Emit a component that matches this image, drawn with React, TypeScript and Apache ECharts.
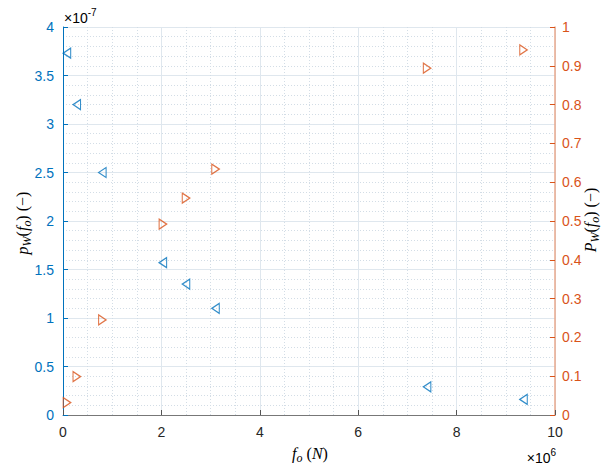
import React, { useEffect, useRef } from "react";
import * as echarts from "echarts";

const xForce = [80000, 280000, 800000, 2030000, 2500000, 3100000, 7400000, 9360000];
const pW = [3.73e-7, 3.2e-7, 2.5e-7, 1.57e-7, 1.35e-7, 1.1e-7, 0.29e-7, 0.16e-7];
const PW = [0.032, 0.099, 0.245, 0.492, 0.559, 0.634, 0.894, 0.941];
const xTickVals = [0, 2, 4, 6, 8, 10];
const leftTicks = [0, 0.5, 1, 1.5, 2, 2.5, 3, 3.5, 4];
const rightTicks = [0, 0.1, 0.2, 0.3, 0.4, 0.5, 0.6, 0.7, 0.8, 0.9, 1];

const BLUE = "#0072BD";
const ORANGE = "#D95319";
const DARK = "#262626";
const FONT = "Liberation Sans, Arial, sans-serif";
const MATH = "Liberation Serif, Times New Roman, serif";

export default function App() {
  const ref = useRef<HTMLDivElement>(null);
  useEffect(() => {
    if (!ref.current) return;
    const chart = echarts.init(ref.current, undefined, { renderer: "svg" });
    const grid = { left: 63, right: 48, top: 27, bottom: 51 };
    const majorGrid = { show: true, lineStyle: { color: "#dfe7ee", width: 1 } };
    const minorGrid = { show: true, lineStyle: { color: "#d3dde6", width: 1, type: [1, 2] as any } };
    const mathRich = (color: string) => ({
      i: { fontFamily: MATH, fontStyle: "italic", fontSize: 16, color, lineHeight: 22 },
      n: { fontFamily: MATH, fontSize: 16, color, lineHeight: 22 },
      s: { fontFamily: MATH, fontStyle: "italic", fontSize: 12, color, lineHeight: 11, verticalAlign: "bottom" },
    });
    const option: any = {
      animation: false,
      grid,
      xAxis: {
        type: "value",
        min: 0,
        max: 1e7,
        interval: 2e6,
        axisLine: { show: true, lineStyle: { color: "#777", width: 1 } },
        axisTick: { show: true, inside: true, length: 5, lineStyle: { color: "#555" } },
        axisLabel: {
          color: DARK,
          fontFamily: FONT,
          fontSize: 14,
          margin: 10,
          formatter: (v: number) => {
            const t = Math.round(v / 1e6);
            return xTickVals.includes(t) ? String(t) : "";
          },
        },
        splitLine: majorGrid,
        minorTick: { show: false, splitNumber: 4 },
        minorSplitLine: minorGrid,
      },
      yAxis: [
        {
          type: "value",
          min: 0,
          max: 4e-7,
          interval: 0.5e-7,
          position: "left",
          axisLine: { show: true, lineStyle: { color: BLUE, width: 1 } },
          axisTick: { show: true, inside: true, length: 5, lineStyle: { color: BLUE } },
          axisLabel: {
            color: BLUE,
            fontFamily: FONT,
            fontSize: 14,
            margin: 9,
            formatter: (v: number) => {
              const t = parseFloat((v * 1e7).toFixed(2));
              return leftTicks.includes(t) ? String(t) : "";
            },
          },
          splitLine: majorGrid,
          minorTick: { show: false, splitNumber: 5 },
          minorSplitLine: minorGrid,
        },
        {
          type: "value",
          min: 0,
          max: 1,
          interval: 0.1,
          position: "right",
          axisLine: { show: true, lineStyle: { color: "#e9a98c", width: 1.5 } },
          axisTick: { show: true, inside: true, length: 5, lineStyle: { color: ORANGE } },
          axisLabel: {
            color: ORANGE,
            fontFamily: FONT,
            fontSize: 14,
            margin: 7,
            formatter: (v: number) => {
              const t = parseFloat(v.toFixed(2));
              return rightTicks.includes(t) ? String(t) : "";
            },
          },
          splitLine: { show: false },
        },
      ],
      series: [
        {
          type: "scatter",
          yAxisIndex: 0,
          data: xForce.map((x, i) => [x, pW[i]]),
          symbol: "triangle",
          symbolSize: [10, 7.5],
          symbolRotate: 90,
          itemStyle: { color: "transparent", borderColor: BLUE, borderWidth: 1.2 },
        },
        {
          type: "scatter",
          yAxisIndex: 1,
          data: xForce.map((x, i) => [x, PW[i]]),
          symbol: "triangle",
          symbolSize: [10, 7.5],
          symbolRotate: -90,
          itemStyle: { color: "transparent", borderColor: ORANGE, borderWidth: 1.2 },
        },
      ],
      graphic: [
        {
          type: "text",
          x: 64,
          y: 25,
          style: {
            text: "{n|×10}{p|-7}",
            verticalAlign: "bottom",
            rich: {
              n: { fontFamily: FONT, fontSize: 14, color: BLUE, lineHeight: 18, verticalAlign: "bottom" },
              p: { fontFamily: FONT, fontSize: 10, color: BLUE, lineHeight: 10, verticalAlign: "top" },
            },
          },
        },
        {
          type: "text",
          x: 556,
          y: 465,
          style: {
            text: "{n|×10}{p|6}",
            align: "right",
            verticalAlign: "bottom",
            rich: {
              n: { fontFamily: FONT, fontSize: 14, color: DARK, lineHeight: 18, verticalAlign: "bottom" },
              p: { fontFamily: FONT, fontSize: 10, color: DARK, lineHeight: 10, verticalAlign: "top" },
            },
          },
        },
        {
          type: "text",
          x: 310,
          y: 453,
          style: {
            text: "{i|f}{s|o}{n| (}{i|N}{n|)}",
            align: "center",
            verticalAlign: "middle",
            rich: mathRich("#404040"),
          },
        },
        {
          type: "text",
          x: 22,
          y: 223,
          rotation: Math.PI / 2,
          style: {
            text: "{i|p}{s|W}{n|(}{i|f}{s|o}{n|) (−)}",
            align: "center",
            verticalAlign: "middle",
            rich: mathRich(BLUE),
          },
        },
        {
          type: "text",
          x: 590,
          y: 220,
          rotation: Math.PI / 2,
          style: {
            text: "{i|P}{s|W}{n|(}{i|f}{s|o}{n|) (−)}",
            align: "center",
            verticalAlign: "middle",
            rich: mathRich(ORANGE),
          },
        },
      ],
    };
    chart.setOption(option);
    return () => chart.dispose();
  }, []);
  return <div ref={ref} style={{ position: "absolute", left: 0, top: 0, width: 603, height: 466 }} />;
}
